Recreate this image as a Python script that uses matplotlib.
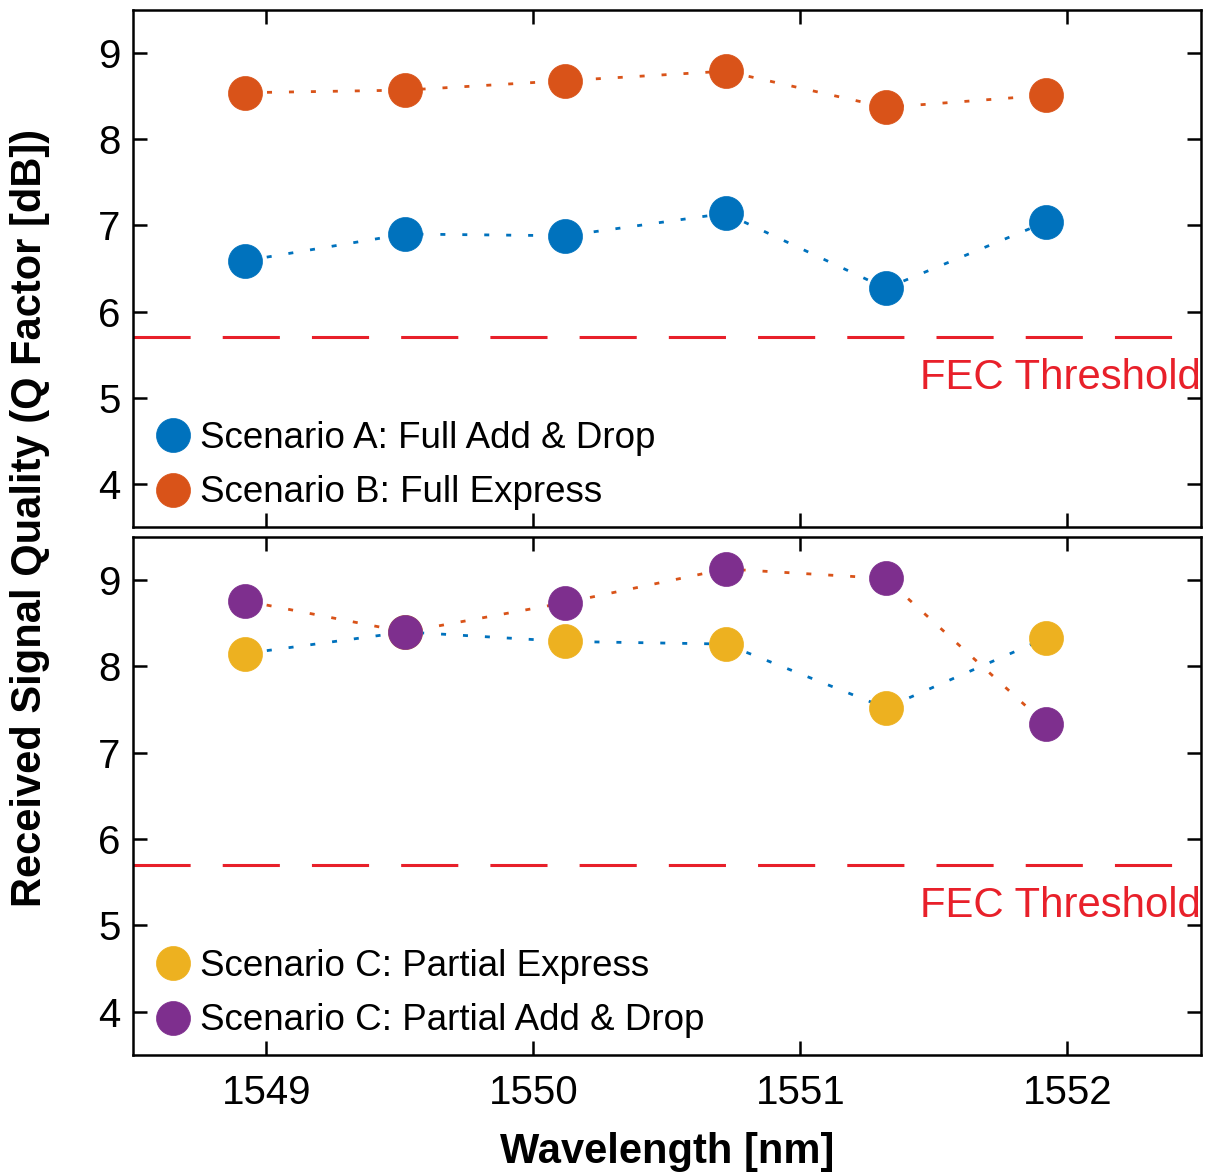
import matplotlib
matplotlib.use("Agg")
import matplotlib.pyplot as plt

plt.rcParams['font.family'] = ['Liberation Sans', 'DejaVu Sans']

wavelength = [1548.92, 1549.52, 1550.12, 1550.72, 1551.32, 1551.92]
scen_a = [6.59, 6.90, 6.88, 7.14, 6.27, 7.04]
scen_b = [8.54, 8.57, 8.68, 8.79, 8.37, 8.51]
scen_c_express = [8.15, 8.40, 8.29, 8.26, 7.52, 8.33]
scen_c_adddrop = [8.76, 8.40, 8.74, 9.13, 9.02, 7.33]
fec_threshold = 5.7

labels_top = ["Scenario A: Full Add & Drop", "Scenario B: Full Express"]
labels_bot = ["Scenario C: Partial Express", "Scenario C: Partial Add & Drop"]
xticks = [1549, 1550, 1551, 1552]
yticks = [4, 5, 6, 7, 8, 9]

BLUE = '#0072BD'
ORANGE = '#D95319'
YELLOW = '#EDB120'
PURPLE = '#7E2F8E'
RED = '#E8202A'

fig = plt.figure(figsize=(12.13, 11.73), dpi=100)
ax1 = fig.add_axes([0.1096, 0.5507, 0.8804, 0.4408])
ax2 = fig.add_axes([0.1096, 0.1006, 0.8804, 0.4416])

def draw(ax, series, mcolors, lcolors, labels):
    for y, mc, lc in zip(series, mcolors, lcolors):
        ax.plot(wavelength, y, color=lc, lw=2.0, dashes=(1.8, 6.1), zorder=2)
    handles = []
    for y, mc, lab in zip(series, mcolors, labels):
        h, = ax.plot(wavelength, y, ls='none', marker='o', ms=24.5, mfc=mc,
                     mec=mc, mew=0.5, label=lab, zorder=3)
        handles.append(h)
    ax.axhline(fec_threshold, color=RED, lw=2.2, dashes=(18.7, 10.5), zorder=1)
    ax.text(1552.5, 5.10, "FEC Threshold", color=RED, fontsize=30.2,
            ha='right', va='baseline')
    ax.set_xlim(1548.5, 1552.5)
    ax.set_ylim(3.5, 9.5)
    ax.set_xticks(xticks)
    ax.set_yticks(yticks)
    ax.tick_params(direction='in', length=10, width=1.8, top=True, right=True,
                   labelsize=29, pad=9)
    ax.tick_params(axis='x', pad=14)
    for s in ax.spines.values():
        s.set_linewidth(1.8)
    ax.legend(handles=handles, loc='lower left', frameon=False, fontsize=26.5,
              handlelength=1.0, handletextpad=0.22, borderpad=0,
              borderaxespad=0, labelspacing=0.53,
              bbox_to_anchor=(0.0206, 0.032))

draw(ax1, [scen_a, scen_b], [BLUE, ORANGE], [BLUE, ORANGE], labels_top)
draw(ax2, [scen_c_express, scen_c_adddrop], [YELLOW, PURPLE], [BLUE, ORANGE], labels_bot)
ax1.tick_params(axis='x', labelbottom=False)

ax2.set_xlabel("Wavelength [nm]", fontsize=30, fontweight='bold', labelpad=14)
fig.text(0.025, 0.5588, "Received Signal Quality (Q Factor [dB])", rotation=90,
         fontsize=30, fontweight='bold', ha='center', va='center')

fig.savefig("out.png", dpi=100)
